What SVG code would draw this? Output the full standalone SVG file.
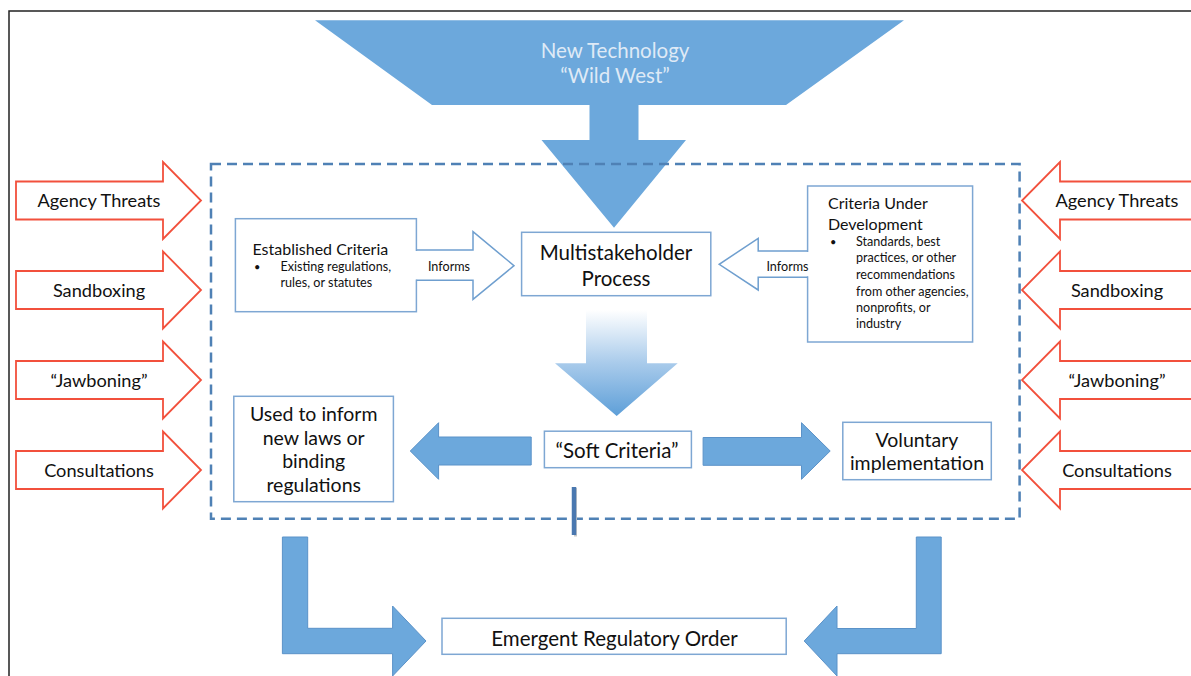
<svg xmlns="http://www.w3.org/2000/svg" width="1191" height="676" viewBox="0 0 1191 676">
<style>
  text { font-family: Lato, "Open Sans", "Liberation Sans", sans-serif; fill: #111; }
  .red { fill: #fff; stroke: #f2503c; stroke-width: 1.8; }
  .box { fill: #fff; stroke: #7ea7d3; stroke-width: 1.5; }
  .blue { fill: #6ca8dc; stroke: #5b92c8; stroke-width: 1; }
  .outl { fill: none; stroke: #6f9fcf; stroke-width: 1.5; }
  .lbl { font-size: 18.2px; text-anchor: middle; }
  .mid { text-anchor: middle; }
  .sm { font-size: 12.6px; }
  .big { font-size: 20.5px; }
  .med { font-size: 19.5px; }
  .hd { font-size: 16px; }
</style>
<defs>
  <path id="redL" d="M16,-19 H163 V-38.5 L201,0 L163,38.5 V19 H16 Z"/>
  <path id="redRt" d="M1196,-19 H1060 V-38.5 L1022,0 L1060,38.5 V19 H1196 Z"/>
  <linearGradient id="grad" x1="0" y1="0" x2="0" y2="1">
    <stop offset="0" stop-color="#ffffff"/>
    <stop offset="0.5" stop-color="#a9cbeb"/>
    <stop offset="1" stop-color="#5e9fd8"/>
  </linearGradient>
</defs>
<rect x="0" y="0" width="1191" height="676" fill="#fff"/>
<path d="M9,676 V11 H1191" fill="none" stroke="#222" stroke-width="1.5"/>

<g id="funnel">
  <polygon points="315,20.3 904,20.3 786,105 638.5,105 638.5,140 686,140 614,227.7 541.5,140 589.5,140 589.5,105 432,105" fill="#6ca8dc"/>
  <text x="615" y="58" class="mid" style="font-size:20.5px;fill:#dfeaf6">New Technology</text>
  <text x="615" y="83" class="mid" style="font-size:20.5px;fill:#dfeaf6">“Wild West”</text>
</g>

<g id="scope">
  <rect x="211" y="164" width="808.6" height="354.7" fill="none" stroke="#4f81b5" stroke-width="2.5" stroke-dasharray="10 6"/>
</g>

<g id="left-agency-threats">
  <use href="#redL" class="red" transform="translate(0,200.5)"/>
  <text x="99" y="207" class="lbl">Agency Threats</text>
</g>
<g id="left-sandboxing">
  <use href="#redL" class="red" transform="translate(0,290)"/>
  <text x="99" y="296.5" class="lbl">Sandboxing</text>
</g>
<g id="left-jawboning">
  <use href="#redL" class="red" transform="translate(0,380)"/>
  <text x="99" y="386.5" class="lbl">“Jawboning”</text>
</g>
<g id="left-consultations">
  <use href="#redL" class="red" transform="translate(0,470)"/>
  <text x="99" y="476.5" class="lbl">Consultations</text>
</g>
<g id="right-agency-threats">
  <use href="#redRt" class="red" transform="translate(0,200.5)"/>
  <text x="1117" y="207" class="lbl">Agency Threats</text>
</g>
<g id="right-sandboxing">
  <use href="#redRt" class="red" transform="translate(0,290)"/>
  <text x="1117" y="296.5" class="lbl">Sandboxing</text>
</g>
<g id="right-jawboning">
  <use href="#redRt" class="red" transform="translate(0,380)"/>
  <text x="1117" y="386.5" class="lbl">“Jawboning”</text>
</g>
<g id="right-consultations">
  <use href="#redRt" class="red" transform="translate(0,470)"/>
  <text x="1117" y="476.5" class="lbl">Consultations</text>
</g>

<g id="established-criteria">
  <rect x="235.4" y="218.7" width="181" height="93" class="box"/>
  <text x="252.5" y="255" class="hd">Established Criteria</text>
  <text x="254" y="271" style="font-size:11px">•</text>
  <text x="280.5" y="271" class="sm">Existing regulations,</text>
  <text x="280.5" y="287" class="sm">rules, or statutes</text>
</g>

<g id="multistakeholder-process">
  <rect x="521.6" y="232.3" width="189.2" height="63.4" class="box"/>
  <text x="616" y="260" class="mid big">Multistakeholder</text>
  <text x="616" y="286" class="mid big">Process</text>
</g>

<g id="criteria-under-development">
  <rect x="807.6" y="186" width="165" height="156" class="box"/>
  <text x="828" y="208.5" class="hd">Criteria Under</text>
  <text x="828" y="229.5" class="hd">Development</text>
  <text x="830" y="246" style="font-size:11px">•</text>
  <text x="856" y="246" class="sm">Standards, best</text>
  <text x="856" y="262.3" class="sm">practices, or other</text>
  <text x="856" y="279" class="sm">recommendations</text>
  <text x="856" y="295.5" class="sm">from other agencies,</text>
  <text x="856" y="311.5" class="sm">nonprofits, or</text>
  <text x="856" y="327.5" class="sm">industry</text>
</g>

<g id="soft-criteria">
  <rect x="544.4" y="431.2" width="147" height="36.5" class="box"/>
  <text x="617" y="458" class="mid big">“Soft Criteria”</text>
</g>

<g id="used-to-inform">
  <rect x="233.8" y="396.3" width="159.6" height="105.4" class="box"/>
  <text x="313.7" y="421" class="mid med">Used to inform</text>
  <text x="313.7" y="445" class="mid med">new laws or</text>
  <text x="313.7" y="468.3" class="mid med">binding</text>
  <text x="313.7" y="491.7" class="mid med">regulations</text>
</g>

<g id="voluntary-implementation">
  <rect x="842.8" y="422.3" width="148.5" height="57.4" class="box"/>
  <text x="917" y="447" class="mid med">Voluntary</text>
  <text x="917" y="470.3" class="mid med">implementation</text>
</g>

<g id="emergent-regulatory-order">
  <rect x="442" y="618.3" width="344.2" height="36" class="box"/>
  <text x="614.5" y="646" class="mid big">Emergent Regulatory Order</text>
</g>

<g id="connectors">
  <path d="M415,251 H473 V232.5 L513,265.7 L473,298.5 V279.5 H415 Z" fill="#fff"/>
  <path d="M416.4,250 H473 V231.7 L514,265.7 L473,299.3 V280.3 H416.4" class="outl"/>
  <text x="449" y="271" class="mid sm">Informs</text>
  <path d="M809,252 H758.2 V239.3 L720.5,264.3 L758.2,289 V276.3 H809 Z" fill="#fff"/>
  <path d="M807.6,251 H758.2 V238.3 L719.2,264.3 L758.2,290 V277.3 H807.6" class="outl"/>
  <text x="787.5" y="271" class="mid sm">Informs</text>
  <path d="M586,310 H647 V363.3 H677.7 L616.7,416 L555,363.3 H586 Z" fill="url(#grad)"/>
  <path d="M531.2,437 H438.6 V422.7 L410.3,451 L438.6,479.3 V465 H531.2 Z" class="blue"/>
  <path d="M703.1,437.5 H801.5 V422.7 L830.2,451 L801.5,479.3 V465.3 H703.1 Z" class="blue"/>
  <line x1="575.5" y1="488" x2="575.5" y2="536.5" stroke="#c8c8c8" stroke-width="3"/>
  <line x1="574" y1="487" x2="574" y2="535" stroke="#4a78b0" stroke-width="4.5"/>
  <path d="M282.4,537 H307.7 V628.3 H392.6 V606 L426,641 L392.6,676 V653.7 H282.4 Z" class="blue"/>
  <path d="M941.2,537 H916.3 V628.5 H837 V606 L804.2,641 L837,676 V653.7 H941.2 Z" class="blue"/>
</g>
</svg>
